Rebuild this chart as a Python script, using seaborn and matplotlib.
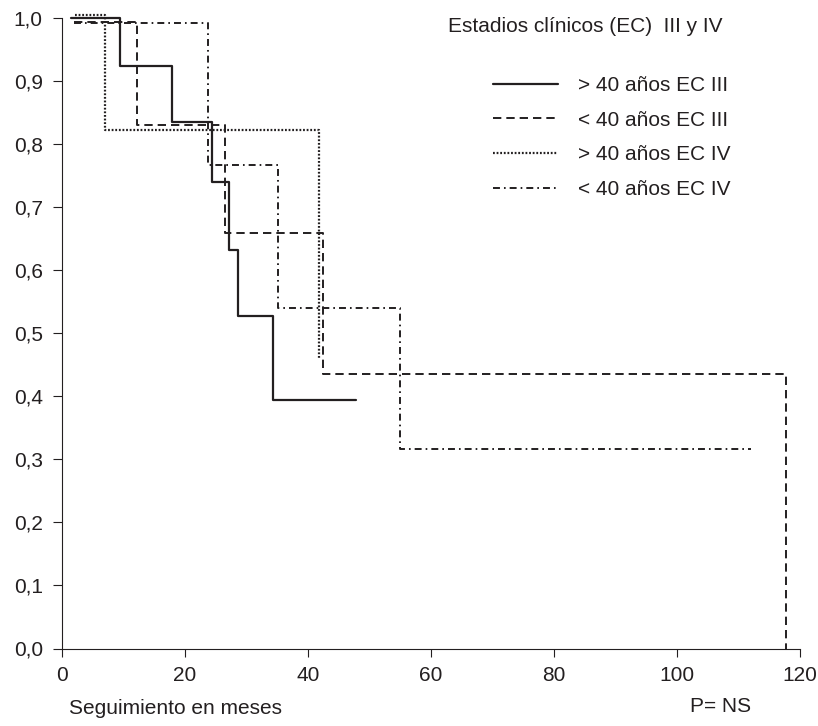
import numpy as np
import pandas as pd
import seaborn as sns
import matplotlib
matplotlib.use("Agg")
import matplotlib.pyplot as plt

# supervivencia (Kaplan-Meier)
meses_may40_III = [1.6, 9.5, 18.0, 24.4, 27.2, 28.6, 34.4, 47.9]
surv_may40_III = [1.0, 0.924, 0.835, 0.741, 0.633, 0.528, 0.394, 0.394]

meses_men40_III = [2.0, 12.2, 26.5, 42.4, 117.8]
surv_men40_III = [0.994, 0.830, 0.659, 0.436, 0.0]

meses_may40_IV = [2.1, 7.1, 41.8]
surv_may40_IV = [1.005, 0.823, 0.461]

meses_men40_IV = [2.0, 23.8, 35.2, 55.0, 112.0]
surv_men40_IV = [0.993, 0.767, 0.541, 0.317, 0.317]

etiquetas = ["> 40 años EC III", "< 40 años EC III", "> 40 años EC IV", "< 40 años EC IV"]
x_ticks = [0, 20, 40, 60, 80, 100, 120]
y_ticks = [0.0, 0.1, 0.2, 0.3, 0.4, 0.5, 0.6, 0.7, 0.8, 0.9, 1.0]
y_tick_labels = ["0,0", "0,1", "0,2", "0,3", "0,4", "0,5", "0,6", "0,7", "0,8", "0,9", "1,0"]

sns.set_style("ticks")
plt.rcParams["font.family"] = ["Liberation Sans", "DejaVu Sans"]
plt.rcParams["lines.scale_dashes"] = False
ink = "#231f20"
fs = 15

W, H = 818, 726
fig = plt.figure(figsize=(W / 100, H / 100), dpi=100)
ax = fig.add_axes([61.6 / W, 1 - 648.5 / H, (800 - 61.6) / W, (648.5 - 18.3) / H])

curvas = [
    (meses_may40_III, surv_may40_III, "-", 1.6),
    (meses_men40_III, surv_men40_III, (0, (6.0, 3.6)), 1.4),
    (meses_may40_IV, surv_may40_IV, (0, (1.3, 1.3)), 1.6),
    (meses_men40_IV, surv_men40_IV, (0, (5.0, 2.9, 1.2, 2.9)), 1.4),
]

handles = []
for (t, s, ls, lw), lab, z in zip(curvas, etiquetas, [5, 4, 3, 2]):
    df = pd.DataFrame({"meses": t, "surv": s})
    sns.lineplot(data=df, x="meses", y="surv", ax=ax, color=ink, linestyle=ls,
                 linewidth=lw, drawstyle="steps-post", estimator=None,
                 label=lab, zorder=z, clip_on=False)
    handles.append(ax.lines[-1])

ax.set_xlim(0, 120)
ax.set_ylim(0, 1.0)
ax.set_xticks(x_ticks)
ax.set_xticklabels([str(v) for v in x_ticks])
ax.set_yticks(y_ticks)
ax.set_yticklabels(y_tick_labels)
ax.set_xlabel("")
ax.set_ylabel("")

for side in ["top", "right"]:
    ax.spines[side].set_visible(False)
for side in ["left", "bottom"]:
    ax.spines[side].set_color(ink)
    ax.spines[side].set_linewidth(0.8)

ax.tick_params(axis="y", length=6.5, width=0.8, color=ink, pad=7,
               labelsize=fs, labelcolor=ink, direction="out")
ax.tick_params(axis="x", length=5.8, width=0.8, color=ink, pad=7,
               labelsize=fs, labelcolor=ink, direction="out")

leg = ax.legend(handles=handles, labels=etiquetas, loc="upper left",
                bbox_to_anchor=(493 / W, 1 - 76 / H), bbox_transform=fig.transFigure,
                frameon=False, fontsize=fs, borderpad=0, borderaxespad=0,
                handlelength=3.12, handletextpad=0.96, labelspacing=0.75)
for txt in leg.get_texts():
    txt.set_color(ink)

fig.text(448 / W, 1 - 27 / H, "Estadios clínicos (EC)  III y IV", fontsize=fs,
         color=ink, ha="left", va="center")
fig.text(69 / W, 1 - 708 / H, "Seguimiento en meses", fontsize=fs,
         color=ink, ha="left", va="center")
fig.text(690 / W, 1 - 706 / H, "P= NS", fontsize=fs, color=ink, ha="left", va="center")

fig.savefig("out.png", dpi=100)
